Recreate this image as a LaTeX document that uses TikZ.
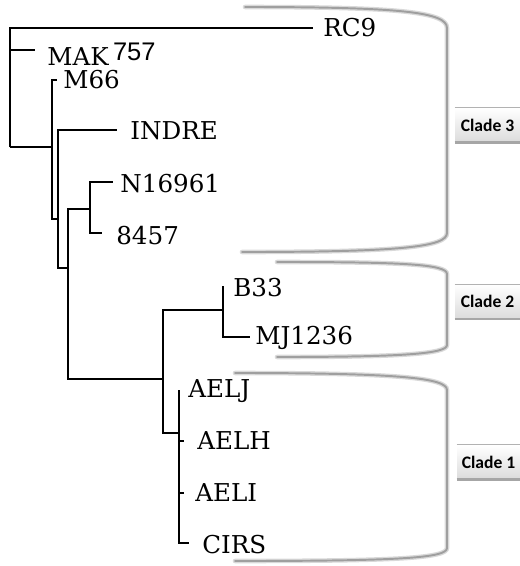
\documentclass[tikz,border=0pt]{standalone}
\usepackage{fontspec}
\newfontfamily\cladefont{Carlito}
\newfontfamily\numfont{Liberation Sans}
\newfontfamily\taxonfont{DejaVu Serif}
\usetikzlibrary{shadings}

\begin{document}
\begin{tikzpicture}[x=0.02cm,y=-0.02cm,
  branch/.style={line width=1pt,black},
  leaf/.style={anchor=west,inner sep=0pt,font=\taxonfont\fontsize{14}{17}\selectfont},
  bracket/.style={line width=1.1pt,gray!75,line cap=round},
  bracketshadow/.style={line width=2.6pt,gray!30,line cap=round},
  cladebox/.style={minimum width=1.3cm,minimum height=0.68cm,inner sep=0pt,
    top color=white,bottom color=gray!28,font=\cladefont\bfseries\fontsize{10}{12}\selectfont}]
\useasboundingbox (0,0) rectangle (520,566);
% internal nodes (each sits where the branch from its parent ends)
\coordinate (root) at (10,147);
\coordinate (nA) at (52,147);
\coordinate (nB) at (58,219);
\coordinate (nC) at (68,268);
\coordinate (nD) at (90,209);
\coordinate (nE) at (163,379);
\coordinate (nF) at (223,310);
\coordinate (nG) at (179,433);
% branch tips
\coordinate (tRC9) at (313,28);
\coordinate (tMAK) at (35,50);
\coordinate (tM66) at (57,80);
\coordinate (tINDRE) at (117,130);
\coordinate (tN16961) at (113,182);
\coordinate (t8457) at (102,233);
\coordinate (tB33) at (223,286);
\coordinate (tMJ1236) at (250,337);
\coordinate (tAELJ) at (179,390);
\coordinate (tAELH) at (184,441);
\coordinate (tAELI) at (184,493);
\coordinate (tCIRS) at (189,543);
% taxon labels
\node[leaf] (RC9) at (323,28) {RC9};
\node[leaf] (MAK) at (47,54) {MAK\hspace{2.5pt}\raisebox{2.8pt}{\numfont\fontsize{14.5}{16}\selectfont 757}};
\node[leaf] (M66) at (63,80) {M66};
\node[leaf] (INDRE) at (130,131) {INDRE};
\node[leaf] (N16961) at (120,184) {N16961};
\node[leaf] (8457) at (116,236) {8457};
\node[leaf] (B33) at (233,288) {B33};
\node[leaf] (MJ1236) at (255,338) {MJ1236};
\node[leaf] (AELJ) at (188,391) {AELJ};
\node[leaf] (AELH) at (197,441) {AELH};
\node[leaf] (AELI) at (195,493) {AELI};
\node[leaf] (CIRS) at (202,545) {CIRS};
% tree
\draw[branch] (root) |- (tRC9);
\draw[branch] (root) |- (tMAK);
\draw[branch] (root) -- (nA);
\draw[branch] (nA) |- (tM66);
\draw[branch] (nA) |- (nB);
\draw[branch] (nB) |- (tINDRE);
\draw[branch] (nB) |- (nC);
\draw[branch] (nC) |- (nD);
\draw[branch] (nC) |- (nE);
\draw[branch] (nD) |- (tN16961);
\draw[branch] (nD) |- (t8457);
\draw[branch] (nE) |- (nF);
\draw[branch] (nE) |- (nG);
\draw[branch] (nF) |- (tB33);
\draw[branch] (nF) |- (tMJ1236);
\draw[branch] (nG) |- (tAELJ);
\draw[branch] (nG) |- (tAELH);
\draw[branch] (nG) |- (tAELI);
\draw[branch] (nG) |- (tCIRS);
% clade brackets
\foreach \s in {bracketshadow,bracket}{
  \draw[\s] (245,7) .. controls (400,7) and (447,12) .. (447,28) -- (447,233)
    .. controls (447,247) and (400,252) .. (242,252);
  \draw[\s] (277,262) .. controls (400,262) and (447,264) .. (447,274) -- (447,345)
    .. controls (447,354) and (400,357) .. (277,357);
  \draw[\s] (235,373) .. controls (400,373) and (447,378) .. (447,390) -- (447,548)
    .. controls (447,558) and (400,561) .. (235,561);
}
% clade labels
\node[cladebox] (clade3) at (487.5,125) {Clade 3};
\node[cladebox] (clade2) at (487.5,301.5) {Clade 2};
\node[cladebox,minimum width=1.26cm] (clade1) at (488.5,462) {Clade 1};
\foreach \c in {clade3,clade2,clade1}{
  \draw[gray!60,line width=0.6pt] (\c.north west) -- (\c.north east);
  \draw[gray!70,line width=1.4pt] (\c.south west) -- (\c.south east);
}
\end{tikzpicture}
\end{document}
